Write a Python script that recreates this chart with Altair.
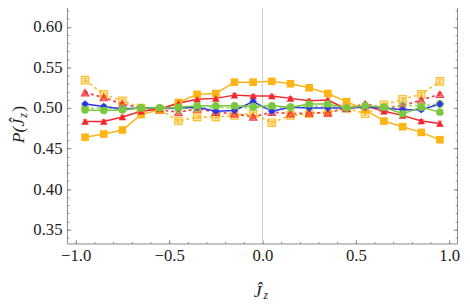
import altair as alt
import pandas as pd

# ---------------- data ----------------
x_vals = [-0.95, -0.85, -0.75, -0.65, -0.55, -0.45, -0.35, -0.25, -0.15, -0.05,
          0.05, 0.15, 0.25, 0.35, 0.45, 0.55, 0.65, 0.75, 0.85, 0.95]

orange_solid = [0.464, 0.468, 0.473, 0.492, 0.498, 0.507, 0.517, 0.518, 0.532, 0.532,
                0.533, 0.530, 0.525, 0.518, 0.508, 0.498, 0.484, 0.477, 0.470, 0.461]
red_solid = [0.4835, 0.4835, 0.489, 0.496, 0.499, 0.506, 0.511, 0.512, 0.516, 0.515,
             0.515, 0.512, 0.509, 0.510, 0.499, 0.503, 0.496, 0.491, 0.484, 0.481]
blue_solid = [0.505, 0.502, 0.499, 0.500, 0.500, 0.500, 0.501, 0.496, 0.497, 0.508,
              0.496, 0.501, 0.500, 0.500, 0.500, 0.501, 0.500, 0.498, 0.498, 0.505]
green_solid = [0.4977, 0.497, 0.4977, 0.500, 0.500, 0.501, 0.503, 0.503, 0.503, 0.502,
               0.503, 0.501, 0.505, 0.505, 0.500, 0.503, 0.501, 0.493, 0.501, 0.495]
orange_dashed = [0.5345, 0.517, 0.509, 0.500, 0.498, 0.484, 0.489, 0.489, 0.491, 0.493,
                 0.482, 0.491, 0.493, 0.495, 0.500, 0.493, 0.504, 0.511, 0.517, 0.533]
red_dashed = [0.519, 0.513, 0.505, 0.500, 0.498, 0.495, 0.499, 0.495, 0.493, 0.489,
              0.495, 0.493, 0.494, 0.494, 0.500, 0.505, 0.500, 0.503, 0.510, 0.517]
green_dashed = [0.500, 0.500, 0.499, 0.500, 0.500, 0.499, 0.500, 0.501, 0.500, 0.501,
                0.500, 0.501, 0.502, 0.502, 0.501, 0.502, 0.501, 0.503, 0.503, 0.505]

err_solid = [0.002, 0.002, 0.002, 0.002, 0.002, 0.002, 0.002, 0.002, 0.002, 0.002,
             0.002, 0.002, 0.002, 0.002, 0.002, 0.002, 0.002, 0.002, 0.002, 0.003]
err_dashed = [0.002, 0.002, 0.002, 0.002, 0.002, 0.002, 0.002, 0.002, 0.002, 0.002,
              0.002, 0.002, 0.002, 0.002, 0.002, 0.002, 0.002, 0.002, 0.002, 0.002]

series_order = ["od", "rd", "gd", "os", "rs", "bs", "gs"]
series_vals = {"os": orange_solid, "rs": red_solid, "bs": blue_solid, "gs": green_solid,
               "od": orange_dashed, "rd": red_dashed, "gd": green_dashed}
series_style = {"os": "solid", "rs": "solid", "bs": "solid", "gs": "solid",
                "od": "dashed", "rd": "dashed", "gd": "dashed"}

colors = {"os": "#FDB515", "rs": "#F5262B", "bs": "#2B36E8", "gs": "#79C83E",
          "od": "#FDB515", "rd": "#F5262B", "gd": "#92D25E"}
shapes = {"os": "square", "rs": "triangle-up", "bs": "diamond", "gs": "circle",
          "od": "square", "rd": "triangle-up", "gd": "circle"}
sizes = {"os": 60, "rs": 55, "bs": 30, "gs": 100, "od": 60, "rd": 50, "gd": 60}

rows = []
for s in series_order:
    errs = err_solid if series_style[s] == "solid" else err_dashed
    for xv, yv, ev in zip(x_vals, series_vals[s], errs):
        rows.append({"x": xv, "y": yv, "lo": yv - ev, "hi": yv + ev,
                     "series": s, "style": series_style[s]})
df = pd.DataFrame(rows)

x_major = [-1.0, -0.5, 0.0, 0.5, 1.0]
x_minor = [-1.0, -0.9, -0.8, -0.7, -0.6, -0.5, -0.4, -0.3, -0.2, -0.1, 0.0,
           0.1, 0.2, 0.3, 0.4, 0.5, 0.6, 0.7, 0.8, 0.9, 1.0]
y_major = [0.35, 0.40, 0.45, 0.50, 0.55, 0.60]
y_minor = [0.34, 0.35, 0.36, 0.37, 0.38, 0.39, 0.40, 0.41, 0.42, 0.43, 0.44, 0.45,
           0.46, 0.47, 0.48, 0.49, 0.50, 0.51, 0.52, 0.53, 0.54, 0.55, 0.56, 0.57,
           0.58, 0.59, 0.60, 0.61, 0.62]

# ---------------- styling ----------------
W, H = 397, 245
FONT = "Liberation Serif"
TICK = "#777777"
xscale = alt.Scale(domain=[-1.047, 1.042], nice=False, zero=False)
yscale = alt.Scale(domain=[0.333, 0.630], nice=False, zero=False)

dom = list(colors.keys())
color_enc = alt.Color("series:N", scale=alt.Scale(domain=dom, range=[colors[k] for k in dom]), legend=None)
shape_enc = alt.Shape("series:N", scale=alt.Scale(domain=dom, range=[shapes[k] for k in dom]), legend=None)
size_enc = alt.Size("series:N", scale=alt.Scale(domain=dom, range=[sizes[k] for k in dom]), legend=None)

base = alt.Chart(df)

zero_rule = alt.Chart(pd.DataFrame({"v": [0.0]})).mark_rule(color="#cfcfcf", strokeWidth=1).encode(
    x=alt.X("v:Q", scale=xscale, axis=None))

err_rule = base.mark_rule(strokeWidth=1).encode(
    x=alt.X("x:Q", scale=xscale, axis=None),
    y=alt.Y("lo:Q", scale=yscale, axis=None), y2="hi:Q", color=color_enc)
cap_lo = base.mark_tick(orient="horizontal", size=5, thickness=1).encode(
    x=alt.X("x:Q", scale=xscale, axis=None), y=alt.Y("lo:Q", scale=yscale, axis=None), color=color_enc)
cap_hi = base.mark_tick(orient="horizontal", size=5, thickness=1).encode(
    x=alt.X("x:Q", scale=xscale, axis=None), y=alt.Y("hi:Q", scale=yscale, axis=None), color=color_enc)

label_x_axis = alt.Axis(orient="bottom", values=x_major, tickSize=0, domain=False, grid=False,
                        labelExpr="replace(format(datum.value, '.1f'), '-', '\u2212')",
                        labelFont=FONT, labelFontSize=17, labelColor="#222222", labelPadding=4,
                        title=None)
label_y_axis = alt.Axis(orient="left", values=y_major, tickSize=0, domain=False, grid=False,
                        format=".2f", labelFont=FONT, labelFontSize=17, labelColor="#222222",
                        labelPadding=5, title=None)

solid_lines = base.transform_filter(alt.datum.style == "solid").mark_line(strokeWidth=1.5).encode(
    x=alt.X("x:Q", scale=xscale, axis=label_x_axis),
    y=alt.Y("y:Q", scale=yscale, axis=label_y_axis),
    color=color_enc, detail="series:N")

dashed_lines = base.transform_filter(alt.datum.style == "dashed").mark_line(
    strokeWidth=1.8, strokeDash=[3, 3], opacity=0.85).encode(
    x=alt.X("x:Q", scale=xscale, axis=None),
    y=alt.Y("y:Q", scale=yscale, axis=None),
    color=color_enc, detail="series:N")

pts_dashed = base.transform_filter(alt.datum.style == "dashed").mark_point(
    filled=True, fillOpacity=0.3, strokeWidth=1.2, strokeOpacity=0.85).encode(
    x=alt.X("x:Q", scale=xscale, axis=None), y=alt.Y("y:Q", scale=yscale, axis=None),
    color=color_enc, stroke=alt.Stroke("series:N", scale=alt.Scale(domain=dom, range=[colors[k] for k in dom]), legend=None),
    shape=shape_enc, size=size_enc)

pts_solid = base.transform_filter(alt.datum.style == "solid").mark_point(
    filled=True, opacity=1).encode(
    x=alt.X("x:Q", scale=xscale, axis=None), y=alt.Y("y:Q", scale=yscale, axis=None),
    color=color_enc, shape=shape_enc, size=size_enc)


def tick_layer(xorient, yorient, xvals, yvals, length):
    ax = alt.Axis(orient=xorient, values=xvals, tickSize=length, offset=-length, labels=False,
                  domain=False, grid=False, title=None, tickColor=TICK, tickWidth=0.8)
    ay = alt.Axis(orient=yorient, values=yvals, tickSize=length, offset=-length, labels=False,
                  domain=False, grid=False, title=None, tickColor=TICK, tickWidth=0.8)
    return base.mark_point(opacity=0).encode(
        x=alt.X("x:Q", scale=xscale, axis=ax), y=alt.Y("y:Q", scale=yscale, axis=ay))


t1 = tick_layer("bottom", "left", x_major, y_major, 4)
t2 = tick_layer("bottom", "left", x_minor, y_minor, 2)
t3 = tick_layer("top", "right", x_major, y_major, 4)
t4 = tick_layer("top", "right", x_minor, y_minor, 2)

# axis titles as text (with subscript)
tx1 = alt.Chart(pd.DataFrame({"t": ["\u0134"]})).mark_text(
    font=FONT, fontSize=18, fontStyle="italic", align="center", baseline="alphabetic", color="#222222").encode(
    text="t:N", x=alt.value(194), y=alt.value(299))
tx2 = alt.Chart(pd.DataFrame({"t": ["z"]})).mark_text(
    font=FONT, fontSize=12, fontStyle="italic", align="left", baseline="alphabetic", color="#222222").encode(
    text="t:N", x=alt.value(200), y=alt.value(302))
ty1 = alt.Chart(pd.DataFrame({"t": ["P(\u0134"]})).mark_text(
    font=FONT, fontSize=18, fontStyle="italic", align="left", baseline="alphabetic", angle=270, color="#222222").encode(
    text="t:N", x=alt.value(-44), y=alt.value(143))
ty2 = alt.Chart(pd.DataFrame({"t": ["z"]})).mark_text(
    font=FONT, fontSize=12, fontStyle="italic", align="left", baseline="alphabetic", angle=270, color="#222222").encode(
    text="t:N", x=alt.value(-41), y=alt.value(117))
ty3 = alt.Chart(pd.DataFrame({"t": [")"]})).mark_text(
    font=FONT, fontSize=18, align="left", baseline="alphabetic", angle=270, color="#222222").encode(
    text="t:N", x=alt.value(-44), y=alt.value(111))

chart = alt.layer(
    zero_rule, err_rule, cap_lo, cap_hi, dashed_lines, solid_lines, pts_dashed, pts_solid,
    t1, t2, t3, t4, tx1, tx2, ty1, ty2, ty3
).resolve_axis(x="independent", y="independent").properties(
    width=W, height=H,
    autosize=alt.AutoSizeParams(type="none"),
    padding={"left": 60, "top": -8, "right": 5, "bottom": 60},
).configure_view(stroke="#8a8a8a", strokeWidth=1)

chart.save("out.html", embed_options={"renderer": "svg", "actions": False})
